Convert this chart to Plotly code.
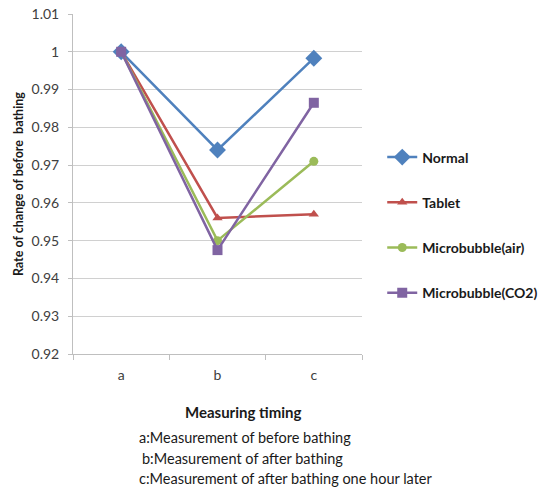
import plotly.graph_objects as go

categories = ["a", "b", "c"]
series_names = ["Normal", "Tablet", "Microbubble(air)", "Microbubble(CO2)"]
normal = [1.0, 0.974, 0.9983]
tablet = [1.0, 0.956, 0.957]
mb_air = [1.0, 0.950, 0.971]
mb_co2 = [1.0, 0.9475, 0.9865]
y_ticks = [0.92, 0.93, 0.94, 0.95, 0.96, 0.97, 0.98, 0.99, 1.0, 1.01]
y_tick_labels = ["0.92", "0.93", "0.94", "0.95", "0.96", "0.97", "0.98", "0.99", "1", "1.01"]

colors = ["#4F81BD", "#C0504D", "#9BBB59", "#8064A2"]
symbols = ["diamond", "triangle-up", "circle", "square"]
sizes = [13, 9, 9, 10]
data = [normal, tablet, mb_air, mb_co2]

FONT = "Lato, 'Open Sans', sans-serif"

fig = go.Figure()
for i, (name, vals) in enumerate(zip(series_names, data)):
    fig.add_trace(go.Scatter(
        x=categories, y=vals, name=name, mode="lines+markers",
        line=dict(color=colors[i], width=2.5),
        marker=dict(symbol=symbols[i], size=sizes[i], color=colors[i]),
        legendgroup=f"g{i}",
    ))

fig.update_layout(
    width=544, height=487,
    margin=dict(l=73, r=182, t=14, b=133, autoexpand=False),
    plot_bgcolor="white", paper_bgcolor="white",
    font=dict(family=FONT, size=13, color="#404040"),
    showlegend=True,
    legend=dict(
        x=1.07, xanchor="left", y=(354 - 225) / 340, yanchor="middle",
        traceorder="grouped", tracegroupgap=24,
        font=dict(family=FONT, size=14, color="#1a1a1a", weight="bold"),
        itemwidth=30, bgcolor="rgba(0,0,0,0)",
    ),
    xaxis=dict(
        type="category", range=[-0.5, 2.5], tickson="boundaries",
        ticks="outside", ticklen=5, tickcolor="#bfbfbf",
        showline=True, linecolor="#bfbfbf", linewidth=1,
        showgrid=False, tickfont=dict(size=14, color="#404040"),
        ticklabelstandoff=8,
    ),
    yaxis=dict(
        range=[0.92, 1.01], tickvals=y_ticks, ticktext=y_tick_labels,
        ticks="outside", ticklen=4, tickcolor="#bfbfbf",
        showline=True, linecolor="#bfbfbf", linewidth=1,
        showgrid=True, gridcolor="#d0d0d0", gridwidth=1,
        zeroline=False, tickfont=dict(size=14, color="#404040"),
        ticklabelstandoff=6,
    ),
)

fig.add_annotation(
    text="<b>Rate of change of before  bathing</b>", textangle=-90,
    xref="paper", yref="paper", x=-0.19, y=0.5, xanchor="center", yanchor="middle",
    showarrow=False, font=dict(size=12.5, color="#1a1a1a"),
)
fig.add_annotation(
    text="<b>Measuring timing</b>", xref="paper", yref="paper",
    x=(243 - 73) / 289, y=-(412 - 354) / 340, xanchor="center", yanchor="middle",
    showarrow=False, font=dict(size=15, color="#1a1a1a"),
)
notes = [
    ("a:Measurement of before bathing", 137, 437),
    ("b:Measurement of after bathing", 140, 458),
    ("c:Measurement of after bathing one hour later", 137, 478),
]
for txt, px, py in notes:
    fig.add_annotation(
        text=txt, xref="paper", yref="paper",
        x=(px - 73) / 289, y=-(py - 354) / 340, xanchor="left", yanchor="middle",
        showarrow=False, font=dict(size=14.5, color="#1a1a1a"),
    )

fig.write_html("out.html")
